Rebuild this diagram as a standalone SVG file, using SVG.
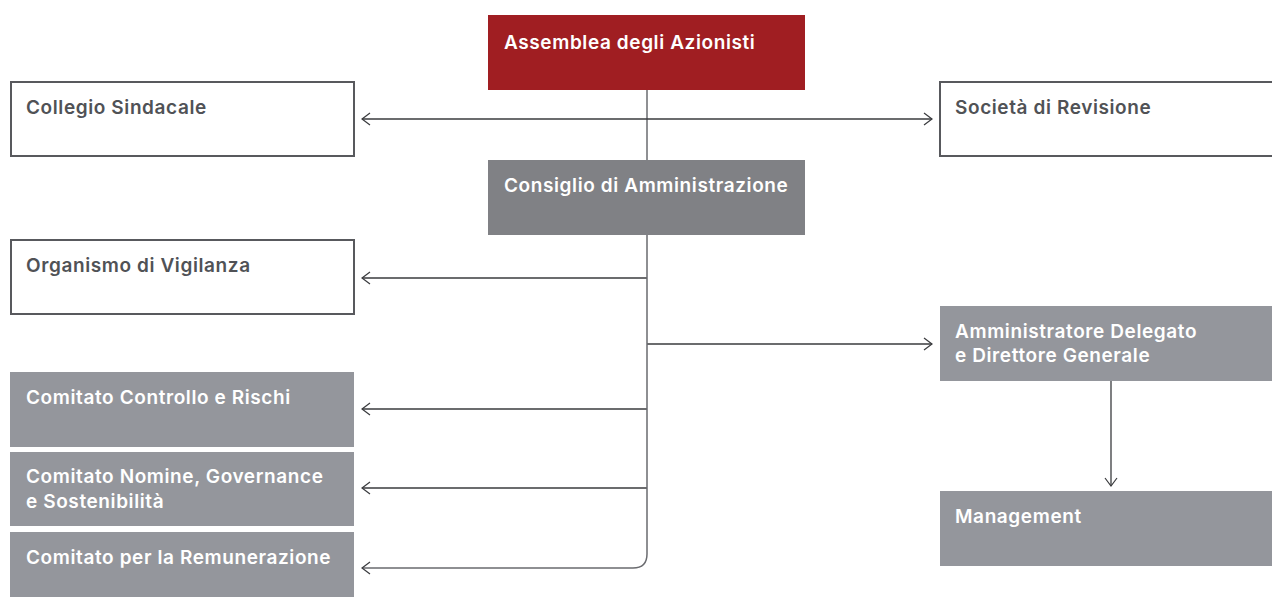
<svg xmlns="http://www.w3.org/2000/svg" width="1272" height="597" viewBox="0 0 1272 597">
<style>
text{font-family:Inter,"Liberation Sans",sans-serif;font-size:19px;font-weight:600;letter-spacing:0.6px}
.w{fill:#ffffff}
.d{fill:#505256}
.ob{fill:#ffffff;stroke:#58595d;stroke-width:2}
.g1{fill:#808185}
.g2{fill:#94969c}
.c{fill:none;stroke:#3a3b3e;stroke-width:1.3}
.v{fill:none;stroke:#6a6b6f;stroke-width:1.5}
</style>
<defs>
<marker id="ah" viewBox="0 0 10 14" refX="9" refY="7" markerWidth="10" markerHeight="14" markerUnits="userSpaceOnUse" orient="auto-start-reverse">
<path d="M1,1 L9,7 L1,13" fill="none" stroke="#3a3b3e" stroke-width="1.2"/>
</marker>
</defs>
<g id="connectors">
<path class="v" d="M647,90 V160"/>
<path class="c" d="M362,119 H932" marker-start="url(#ah)" marker-end="url(#ah)"/>
<path class="c" d="M647,278 H362" marker-end="url(#ah)"/>
<path class="c" d="M647,344 H932" marker-end="url(#ah)"/>
<path class="c" d="M647,409 H362" marker-end="url(#ah)"/>
<path class="c" d="M647,488 H362" marker-end="url(#ah)"/>
<path class="v" d="M647,235 V554 Q647,568 633,568 H362" marker-end="url(#ah)"/>
<path class="c" d="M1111,381 V486" marker-end="url(#ah)"/>
</g>
<g id="assemblea"><rect x="488" y="15" width="317" height="75" fill="#a01e22"/><text class="w" x="504" y="49">Assemblea degli Azionisti</text></g>
<g id="collegio"><rect class="ob" x="11" y="82" width="343" height="74"/><text class="d" x="26" y="114">Collegio Sindacale</text></g>
<g id="societa"><rect class="ob" x="940" y="82" width="340" height="74"/><text class="d" x="955" y="114">Società di Revisione</text></g>
<g id="consiglio"><rect class="g1" x="488" y="160" width="317" height="75"/><text class="w" x="504" y="192">Consiglio di Amministrazione</text></g>
<g id="organismo"><rect class="ob" x="11" y="240" width="343" height="74"/><text class="d" x="26" y="272">Organismo di Vigilanza</text></g>
<g id="ad"><rect class="g2" x="940" y="306" width="332" height="75"/><text class="w" x="955" y="338">Amministratore Delegato</text><text class="w" x="955" y="362">e Direttore Generale</text></g>
<g id="ccr"><rect class="g2" x="10" y="372" width="344" height="75"/><text class="w" x="26" y="404">Comitato Controllo e Rischi</text></g>
<g id="cngs"><rect class="g2" x="10" y="452" width="344" height="74"/><text class="w" x="26" y="483">Comitato Nomine, Governance</text><text class="w" x="26" y="508">e Sostenibilità</text></g>
<g id="cr"><rect class="g2" x="10" y="532" width="344" height="65"/><text class="w" x="26" y="564">Comitato per la Remunerazione</text></g>
<g id="management"><rect class="g2" x="940" y="491" width="332" height="75"/><text class="w" x="955" y="523">Management</text></g>
</svg>
